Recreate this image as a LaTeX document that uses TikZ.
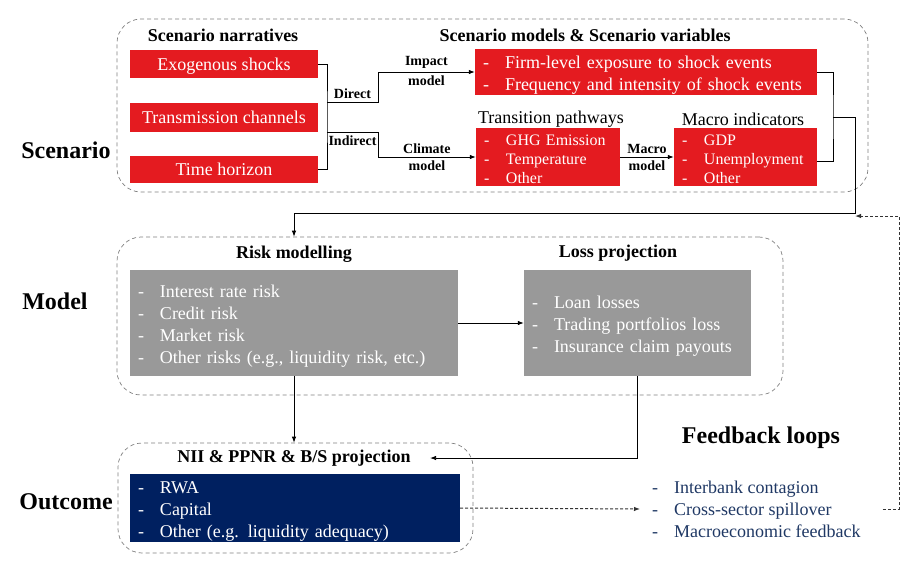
\documentclass[tikz,border=0pt]{standalone}
\usepackage{fontspec}
\setmainfont{Liberation Serif}
\usetikzlibrary{arrows.meta}
\definecolor{scnred}{RGB}{228,27,32}
\definecolor{mdlgrey}{RGB}{153,153,153}
\definecolor{outblue}{RGB}{0,32,96}
\definecolor{fbnavy}{RGB}{31,56,100}
\newcommand{\itm}[1]{\makebox[22pt][l]{-}#1}
\newcommand{\bx}{\fontsize{18}{22}\selectfont}
\newcommand{\sbx}{\fontsize{16}{19}\selectfont}
\newcommand{\ttl}{\fontsize{18}{21}\selectfont\bfseries}
\newcommand{\lblfont}{\fontsize{14}{17}\selectfont\bfseries}
\newcommand{\stagefont}{\fontsize{24}{28}\selectfont\bfseries}
\begin{document}
\begin{tikzpicture}[x=1pt,y=-1pt,
    frame/.style={draw=black!50,dash pattern=on 4pt off 3pt,rounded corners=24pt,line width=0.7pt},
    redbox/.style={fill=scnred,text=white,inner sep=0pt,font=\bx},
    onebox/.style={redbox,minimum width=188,text height=13pt,text depth=1pt},
    greybox/.style={fill=mdlgrey,text=white,font=\bx},
    bluebox/.style={fill=outblue,text=white,font=\bx},
    listbox/.style={text width=#1,align=left,inner xsep=8pt,inner ysep=0pt,
        execute at begin node={\rule{0pt}{18.5pt}}},
    smallbox/.style={redbox,font=\sbx,text width=#1,align=left,inner xsep=8pt,
        inner ysep=0pt,minimum height=58,execute at begin node={\rule{0pt}{14.5pt}}},
    arr/.style={line width=0.8pt,-{Latex[length=6pt,width=4.5pt]}},
    darr/.style={arr,line width=1pt,draw=black!80,dash pattern=on 3pt off 2pt}]
\useasboundingbox (0,0) rectangle (919,563);
% scenario
\node[frame,minimum width=751,minimum height=173] (scnframe) at (492.5,105.5) {};
\node[font=\ttl] (narr) at (223,35) {Scenario narratives};
\node[font=\ttl] (vars) at (585,35) {Scenario models \& Scenario variables};
\node[onebox,minimum height=28] (exo) at (224,64) {Exogenous shocks};
\node[onebox,minimum height=29] (trans) at (224,117) {Transmission channels};
\node[onebox,minimum height=27] (time) at (224,169) {Time horizon};
\node[redbox,listbox=326,minimum height=46] (firm) at (646,72)
    {\itm{Firm-level exposure to shock events}\\\itm{Frequency and intensity of shock events}};
\node[font=\bx] (tptitle) at (551,119) {Transition pathways};
\node[font=\bx] (mititle) at (743,119) {Macro indicators};
\node[smallbox=128] (tpath) at (548,157)
    {\itm{GHG Emission}\\\itm{Temperature}\\\itm{Other}};
\node[smallbox=127] (macro) at (745.5,157)
    {\itm{GDP}\\\itm{Unemployment}\\\itm{Other}};
\node[font=\stagefont] (scnlbl) at (66,150) {Scenario};
\coordinate (bl) at (327,117);
\coordinate (dir) at (327,102);
\coordinate (dj) at (378,102);
\coordinate (ind) at (327,132);
\coordinate (ij) at (378,132);
\draw[line width=0.8pt] (exo.east) -| (bl) |- (time.east);
\draw[arr] (dir) -- node[above,font=\lblfont] {Direct} (dj) |- node[pos=0.75,above,font=\lblfont] {Impact} node[pos=0.75,below,font=\lblfont] {model} (firm.west);
\draw[arr] (ind) -- node[below,font=\lblfont] {Indirect} (ij) |- node[pos=0.75,above,font=\lblfont] {Climate} node[pos=0.75,below,font=\lblfont] {model} (tpath.west);
\draw[arr] (tpath.east) -- node[above,font=\lblfont] {Macro} node[below,font=\lblfont] {model} (macro.west);
% model
\node[frame,minimum width=666,minimum height=158] (mdlframe) at (450,316) {};
\node[font=\ttl] (rmtitle) at (294,254) {Risk modelling};
\node[font=\ttl] (lptitle) at (618,253) {Loss projection};
\node[greybox,listbox=312,minimum height=106] (risk) at (294,323)
    {\itm{Interest rate risk}\\\itm{Credit risk}\\\itm{Market risk}\\\itm{Other risks (e.g., liquidity risk, etc.)}};
\node[greybox,listbox=211,minimum height=106] (loss) at (637.5,323)
    {\itm{Loan losses}\\\itm{Trading portfolios loss}\\\itm{Insurance claim payouts}};
\node[font=\stagefont] (mdllbl) at (55,301) {Model};
\coordinate (rb) at (833,117);
\coordinate (rt) at (855,117);
\coordinate (dn) at (855,213);
\draw[line width=0.8pt] (firm.east) -| (rb) |- ([yshift=-4pt]macro.east);
\draw[arr] (rb) -- (rt) -- (dn) -| (risk.north |- mdlframe.north);
\draw[arr] (risk.east) -- (loss.west);
% outcome
\node[frame,minimum width=355,minimum height=110] (outframe) at (295.5,498) {};
\node[font=\ttl] (nii) at (294,458) {NII \& PPNR \& B/S projection};
\node[bluebox,listbox=314,minimum height=68] (outc) at (295,508)
    {\itm{RWA}\\\itm{Capital}\\\itm{Other (e.g. liquidity adequacy)}};
\node[font=\stagefont] (outlbl) at (66,502) {Outcome};
\draw[arr] (risk.south) -- (risk.south |- outframe.north);
\draw[arr] (loss.south) |- ([xshift=16pt]nii.east);
% feedback loops
\node[font=\stagefont] (fbtitle) at (761,438) {Feedback loops};
\node[font=\bx,text=fbnavy,align=left,anchor=west,inner xsep=12pt] (fb) at (640,509)
    {\itm{Interbank contagion}\\\itm{Cross-sector spillover}\\\itm{Macroeconomic feedback}};
\coordinate (fbc) at (899,216);
\draw[darr] (outc.east) -- (fb.west);
\draw[darr] ([xshift=10pt]fb.east) -| (fbc) -- (dn |- fbc);
\end{tikzpicture}
\end{document}
